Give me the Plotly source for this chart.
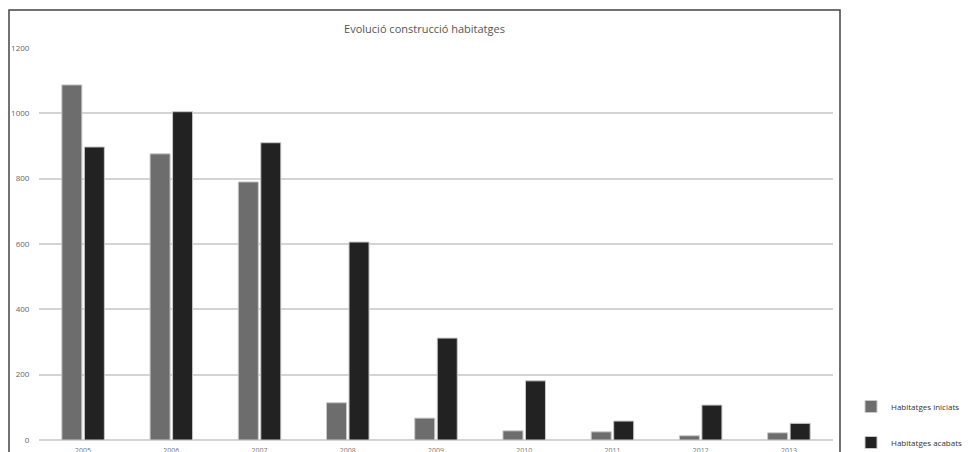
import plotly.graph_objects as go

years = ["2005", "2006", "2007", "2008", "2009", "2010", "2011", "2012", "2013"]
iniciats = [1087, 876, 790, 114, 67, 28, 25, 13, 22]
acabats = [897, 1005, 910, 606, 312, 181, 58, 107, 51]
y_ticks = [0, 200, 400, 600, 800, 1000, 1200]

W, H = 978, 452
L, R, T, B = 39, 145, 48, 12
pw, ph = W - L - R, H - T - B

def px_x(x):
    return (x - L) / pw

def px_y(y):
    return (H - B - y) / ph

font = "Open Sans, Noto Sans, sans-serif"

fig = go.Figure()
fig.add_trace(go.Bar(
    x=years, y=iniciats, name="Habitatges iniciats", legendgroup="a",
    marker=dict(color="#6d6d6d", line=dict(color="#c8c8c8", width=1)),
))
fig.add_trace(go.Bar(
    x=years, y=acabats, name="Habitatges acabats", legendgroup="b",
    marker=dict(color="#222222", line=dict(color="#c8c8c8", width=1)),
))

fig.update_layout(
    width=W, height=H,
    margin=dict(l=L, r=R, t=T, b=B, pad=0, autoexpand=False),
    paper_bgcolor="white", plot_bgcolor="white",
    barmode="group", bargap=0.49, bargroupgap=0.11,
    font=dict(family=font, size=8, color="#555555"),
    title=dict(text="Evolució construcció habitatges", x=424.5 / W, xanchor="center",
               yref="container", y=1 - 29 / H, yanchor="middle",
               font=dict(family=font, size=11, color="#555555")),
    showlegend=True,
    legend=dict(xref="container", yref="container", x=851 / W, xanchor="left",
                y=1 - 392 / H, yanchor="top",
                traceorder="grouped", tracegroupgap=17,
                font=dict(family=font, size=8, color="#333333"),
                bgcolor="rgba(0,0,0,0)"),
    xaxis=dict(type="category", showgrid=False, showline=False, ticks="",
               automargin=False, ticklabelstandoff=5,
               tickfont=dict(size=7, color="#777777"), zeroline=False),
    yaxis=dict(range=[0, 1200], tickvals=y_ticks, showgrid=True, automargin=False,
               gridcolor="#d4d4d4", gridwidth=1.5, zeroline=True,
               zerolinecolor="#d4d4d4", zerolinewidth=1.5, showline=False,
               ticks="outside", ticklen=7, tickcolor="rgba(0,0,0,0)",
               tickfont=dict(size=8, color="#666666")),
    shapes=[dict(type="rect", xref="paper", yref="paper",
                 x0=px_x(9), x1=px_x(840), y0=-0.2, y1=px_y(10),
                 line=dict(color="#444444", width=1.5), layer="below")],
)

post = ("document.documentElement.style.margin='0';"
        "document.body.style.margin='0';document.body.style.padding='0';"
        "document.documentElement.style.overflow='hidden';"
        "document.body.style.overflow='hidden';")

fig.write_html("out.html", post_script=post, config={"responsive": False, "displayModeBar": False})
